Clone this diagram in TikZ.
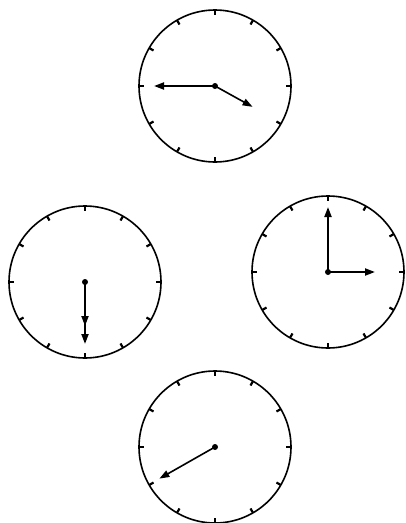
\documentclass[tikz,border=0pt]{standalone}
\usetikzlibrary{arrows.meta}
\begin{document}
\begin{tikzpicture}[x=1pt, y=1pt,
  clock/.style={draw, circle, line width=1.6pt, minimum size=152pt, inner sep=0pt, outer sep=0pt},
  tickmark/.style={line width=2.2pt},
  hand/.style={line width=2pt, -{Triangle[length=10pt, width=7pt]}},
  pivot/.style={fill, circle, inner sep=0pt, minimum size=6pt}]
  \useasboundingbox (0,0) rectangle (405,-523);
  % clock faces with 12 marks
  \foreach \name/\x/\y in {ca/215/-86, cb/85/-282, cc/328/-272, cd/215/-447} {
    \node[clock] (\name) at (\x,\y) {};
    \foreach \a in {0,30,...,330}
      \draw[tickmark] (\name.\a) -- ++(\a+180:5);
    \node[pivot] (\name-p) at (\name.center) {};
  }
  % hand tips
  \coordinate (ca-long) at ([shift={(180:61)}]ca.center);
  \coordinate (ca-short) at ([shift={(-29:43)}]ca.center);
  \coordinate (cb-long) at ([shift={(270:62)}]cb.center);
  \coordinate (cb-short) at ([shift={(270:44)}]cb.center);
  \coordinate (cc-long) at ([shift={(90:65)}]cc.center);
  \coordinate (cc-short) at ([shift={(0:47)}]cc.center);
  \coordinate (cd-long) at ([shift={(209.6:64)}]cd.center);
  % hands
  \draw[hand] (ca-p.center) -- (ca-long);
  \draw[hand, line width=1.6pt] (ca-p.center) -- (ca-short);
  \draw[hand] (cb-p.center) -- (cb-long);
  \draw[hand] (cb-p.center) -- (cb-short);
  \draw[hand] (cc-p.center) -- (cc-long);
  \draw[hand] (cc-p.center) -- (cc-short);
  \draw[hand, line width=1.6pt] (cd-p.center) -- (cd-long);
\end{tikzpicture}
\end{document}
